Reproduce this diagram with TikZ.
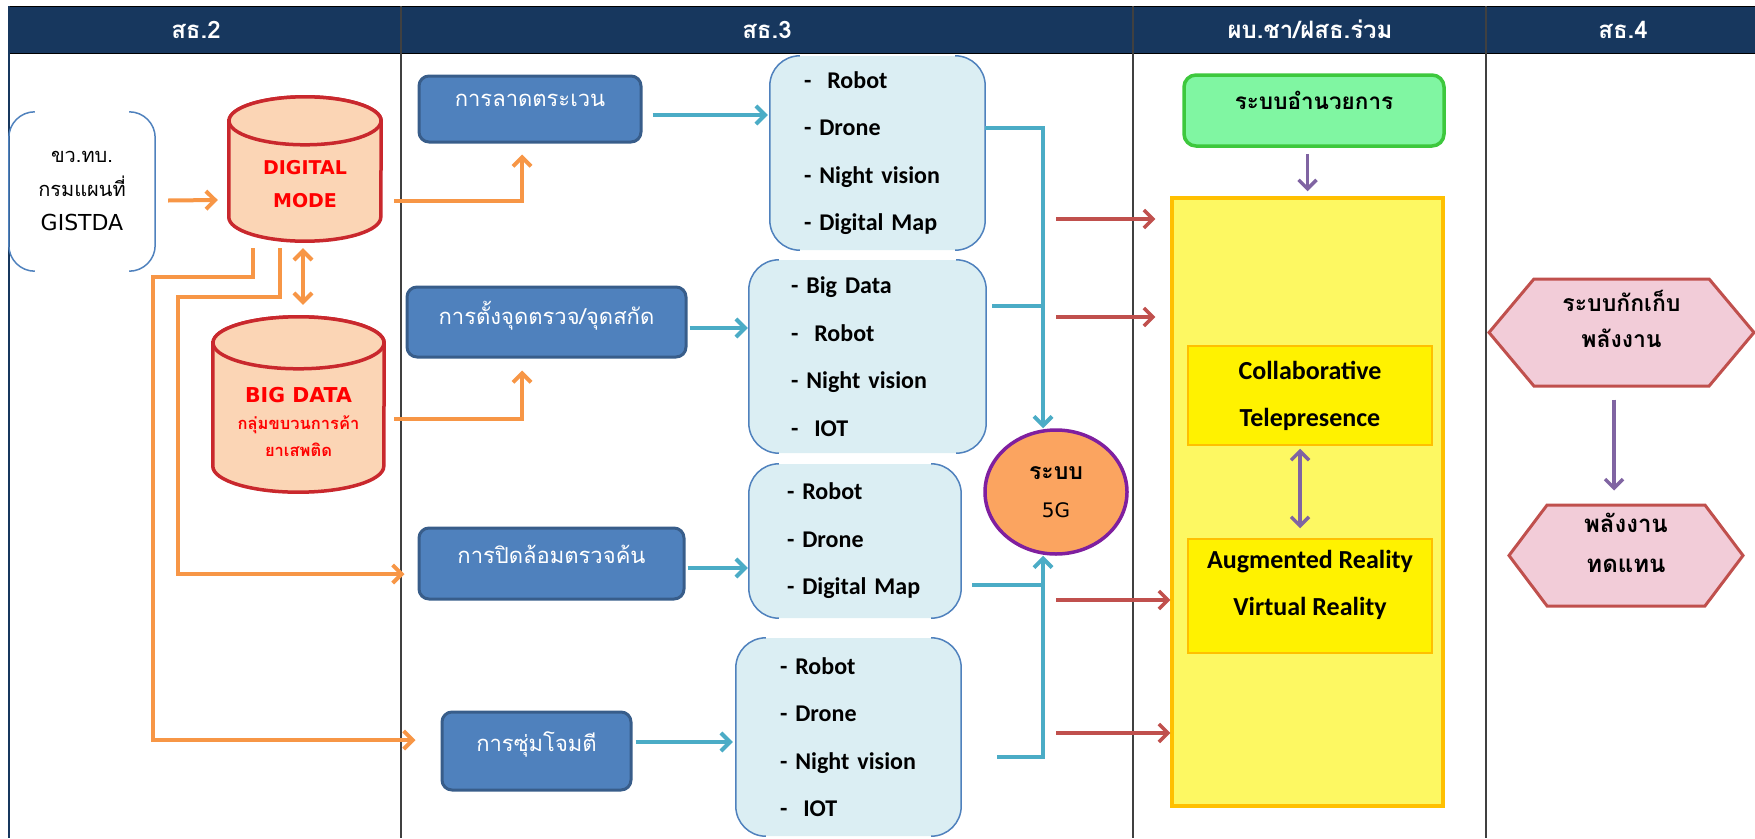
\documentclass[tikz,border=0pt]{standalone}
\usepackage{fontspec}
\setmainfont{Carlito}
\newfontfamily\thaifont[Script=Thai]{Loma}
\newfontfamily\verdfont{DejaVu Sans}
\usetikzlibrary{positioning}
\usetikzlibrary{calc}
\usetikzlibrary{shapes.geometric}
\usetikzlibrary{shapes.symbols}
\usetikzlibrary{arrows.meta}
\pgfdeclarelayer{bg}
\pgfsetlayers{bg,main}
\definecolor{hdrnavy}{HTML}{17375E}
\definecolor{actfill}{HTML}{4F81BD}
\definecolor{actedge}{HTML}{385D8A}
\definecolor{lstfill}{HTML}{DBEEF3}
\definecolor{lstblue}{HTML}{4F81BD}
\definecolor{cylfill}{HTML}{FBD5B5}
\definecolor{cylred}{HTML}{C9282D}
\definecolor{orline}{HTML}{F79646}
\definecolor{cyline}{HTML}{4BACC6}
\definecolor{redline}{HTML}{C0504D}
\definecolor{purline}{HTML}{8064A2}
\definecolor{fgfill}{HTML}{FBA460}
\definecolor{fgedge}{HTML}{7F1F9F}
\definecolor{grfill}{HTML}{80F6A2}
\definecolor{gredge}{HTML}{3DC83D}
\definecolor{yfill}{HTML}{FDF862}
\definecolor{yedge}{HTML}{FFC000}
\definecolor{hexfill}{HTML}{F2CCD8}
\definecolor{hexred}{HTML}{C0504D}
\tikzset{>={Straight Barb[length=9pt,width=18pt]}}
\tikzset{hdr/.style={text=white,font=\thaifont\bfseries\fontsize{24}{28}\selectfont}}
\tikzset{act/.style={draw=actedge,fill=actfill,line width=3pt,rounded corners=10pt,text=white,font=\thaifont\fontsize{22}{26}\selectfont,
  execute at end node={\rule[-18pt]{0pt}{18pt}}}}
\tikzset{lst/.style={fill=lstfill,rounded corners=30pt,inner ysep=0pt,align=left,font=\bfseries\fontsize{24}{47.5}\selectfont}}
\tikzset{lstedge/.style={draw=lstblue,line width=1.5pt}}
\tikzset{dbtxt/.style={inner sep=0pt,text=red,align=center}}
\tikzset{dbline/.style={draw=cylred,fill=cylfill,line width=3.5pt}}
\tikzset{hexa/.style={signal,signal to=east and west,draw=hexred,fill=hexfill,line width=3pt,align=center,inner sep=0pt}}
\tikzset{yel/.style={draw=yedge,line width=1.5pt,fill=yellow,align=center,font=\bfseries\fontsize{26}{47}\selectfont}}
\tikzset{orln/.style={draw=orline,line width=4pt}}
\tikzset{cyln/.style={draw=cyline,line width=4pt}}
\tikzset{rdln/.style={draw=redline,line width=3.5pt}}
\tikzset{puln/.style={draw=purline,line width=3.5pt}}
\newcommand{\sidearcs}[2]{%
  \draw[lstedge,rounded corners=#2] ([xshift=#2]#1.north west) -- (#1.north west) -- (#1.south west) -- ([xshift=#2]#1.south west);
  \draw[lstedge,rounded corners=#2] ([xshift=-#2]#1.north east) -- (#1.north east) -- (#1.south east) -- ([xshift=-#2]#1.south east);}
\newcommand{\dbdraw}[3]{%
  \begin{pgfonlayer}{bg}
  \path[dbline] ([yshift=-#3]#1.north west) -- ([yshift=#3]#1.south west)
    arc[start angle=180,end angle=360,x radius=#2,y radius=#3] -- ([yshift=-#3]#1.north east)
    arc[start angle=0,end angle=180,x radius=#2,y radius=#3] -- cycle;
  \path[dbline] ([yshift=-#3]#1.north) ellipse[x radius=#2,y radius=#3];
  \end{pgfonlayer}}
\newcommand{\lift}[1]{\rule[-#1]{0pt}{#1}}
\newcommand{\drop}[1]{\rule{0pt}{#1}}

\begin{document}
\begin{tikzpicture}[x=1pt,y=-1pt]
        \useasboundingbox (0,0) rectangle (1755,838);
        \fill[hdrnavy] (9,6) rectangle (1755,53);
        \draw[line width=1pt] (9,6) -- (1755,6) (9,53) -- (1755,53);
        \draw[line width=2pt,hdrnavy] (9,6) -- (9,838);
        \draw[line width=1.2pt,black!75] (401,6) -- (401,838) (1133,6) -- (1133,838) (1486,6) -- (1486,838);

        \node[hdr] (h2) at (196,29.5) {สธ.2};
        \node[hdr] (h3) at (767,29.5) {สธ.3};
        \node[hdr] (h4) at (1310,29.5) {ผบ.ชา/ฝสธ.ร่วม};
        \node[hdr] (h5) at (1623,29.5) {สธ.4};

        % sources
        \node[minimum width=146pt, minimum height=159pt, align=center, font=\fontsize{20}{34}\selectfont] (kw) at (82,191.5)
          {{\thaifont ขว.ทบ.}\\{\thaifont กรมแผนที่}\\{\verdfont\fontsize{22}{34}\selectfont GISTDA}};
        \sidearcs{kw}{26pt}
        \node[dbtxt, minimum width=152pt, minimum height=144pt, font=\verdfont\bfseries\fontsize{19}{33}\selectfont] (dm) at (305,169)
          {\drop{45pt}DIGITAL\\MODE};
        \dbdraw{dm}{76pt}{24pt}
        \node[dbtxt, minimum width=171pt, minimum height=175pt, font=\verdfont\bfseries\fontsize{20.5}{27}\selectfont] (bd) at (298.5,404.5)
          {\drop{50pt}BIG DATA\\{\thaifont\fontsize{16.5}{27}\selectfont กลุ่มขบวนการค้า}\\{\thaifont\fontsize{16.5}{25}\selectfont ยาเสพติด}};
        \dbdraw{bd}{85.5pt}{26pt}

        % operations
        \node[act, minimum width=222pt, minimum height=66pt, execute at end node={\rule[-6pt]{0pt}{6pt}}] (lat) at (530,109) {การลาดตระเวน};
        \node[act, minimum width=279pt, minimum height=70pt] (tj) at (546.5,322) {การตั้งจุดตรวจ/จุดสกัด};
        \node[act, minimum width=265pt, minimum height=71pt] (pl) at (551.5,563.5) {การปิดล้อมตรวจค้น};
        \node[act, minimum width=189pt, minimum height=78pt] (sj) at (536.5,751) {การซุ่มโจมตี};

        \node[lst, minimum height=194pt, inner xsep=34pt, text width=147pt] (A) at (877.5,153)
          {-~ Robot\\- Drone\\- Night vision\\- Digital Map};
        \node[lst, minimum height=193pt, inner xsep=42pt, text width=153pt] (B) at (867.5,356.5)
          {- Big Data\\-~ Robot\\- Night vision\\-~ IOT};
        \node[lst, minimum height=154pt, inner xsep=38pt, text width=136pt] (C) at (855,541)
          {- Robot\\- Drone\\- Digital Map};
        \node[lst, minimum height=198pt, inner xsep=44pt, text width=137pt] (D) at (848.5,737)
          {- Robot\\- Drone\\- Night vision\\-~ IOT};
        \sidearcs{A}{30pt}
        \sidearcs{B}{30pt}
        \sidearcs{C}{30pt}
        \sidearcs{D}{30pt}

        \node[ellipse, draw=fgedge, fill=fgfill, line width=3.5pt, minimum width=142pt, minimum height=124pt, align=center,
          font=\fontsize{20}{38}\selectfont] (g5) at (1056,492) {{\thaifont\bfseries\fontsize{23}{38}\selectfont ระบบ}\\{\verdfont 5G}};

        % command side
        \node[draw=gredge, fill=grfill, line width=3.5pt, rounded corners=12pt, minimum width=260pt, minimum height=71pt,
          font=\thaifont\bfseries\fontsize{22.5}{26}\selectfont] (ga) at (1314,110.5) {ระบบอำนวยการ\lift{20pt}};
        \node[draw=yedge, fill=yfill, line width=3.5pt, minimum width=271pt, minimum height=608pt] (ar) at (1307.5,502) {};
        \node[yel, minimum width=244pt, minimum height=99pt] (cb) at (1310,395.5) {Collaborative\\Telepresence};
        \node[yel, minimum width=244pt, minimum height=114pt] (ag) at (1310,596) {Augmented Reality\\Virtual Reality\lift{26pt}};

        \node[hexa, minimum width=265pt, minimum height=107pt, signal pointer angle=100,
          font=\thaifont\bfseries\fontsize{23}{36}\selectfont] (hx1) at (1621.5,332.5) {ระบบกักเก็บ\\พลังงาน\lift{28pt}};
        \node[hexa, minimum width=234pt, minimum height=101pt, signal pointer angle=106,
          font=\thaifont\bfseries\fontsize{24}{40}\selectfont] (hx2) at (1626,555.5) {พลังงาน\\ทดแทน\lift{26pt}};

        \coordinate (r1) at (1056,219);
        \coordinate (r2) at (1056,317);
        \coordinate (r3) at (1056,600);
        \coordinate (r4) at (1056,733);

        % orange
        \draw[orln, ->] ($(kw.east)+(13,9)$) -- ($(dm.west)+(-11,31)$);
        \draw[orln, <->] ($(dm.south)+(-2,7)$) -- ($(bd.north)+(4.5,-12)$);
        \draw[orln, ->] ($(dm.east)+(13,32)$) -| ($(lat.south)+(-8,11)$);
        \draw[orln, ->] ($(bd.east)+(10,14)$) -| ($(tj.south)+(-24.5,12)$);
        \draw[orln, ->] ($(dm.south)+(-25,7)$) |- (178,297) |- ($(pl.west)+(-13,10.5)$);
        \draw[orln, ->] ($(dm.south)+(-52,7)$) |- (153,277) |- ($(sj.west)+(-25,-11)$);

        % cyan
        \draw[cyln, ->] ($(lat.east)+(10,6)$) -- ($(A.west)+(-2,-38)$);
        \draw[cyln, ->] ($(tj.east)+(2,6)$) -- ($(B.west)+(-1,-28.5)$);
        \draw[cyln, ->] ($(pl.east)+(2,4.5)$) -- ($(C.west)+(-1,27)$);
        \draw[cyln, ->] ($(sj.east)+(3,-9)$) -- ($(D.west)+(-3,5)$);
        \draw[cyln, ->] ($(A.east)+(0,-25)$) -| ($(g5.north)+(-13,0)$);
        \draw[cyln] ($(B.east)+(6,-50.5)$) -- ++(51,0);
        \draw[cyln] ($(C.east)+(11,44)$) -- ++(71,0);
        \draw[cyln, ->] ($(D.east)+(36,20)$) -| ($(g5.south)+(-13,0)$);

        % red
        \draw[rdln, ->, shorten >=15pt] (r1) -- (r1 -| ar.west);
        \draw[rdln, ->, shorten >=15pt] (r2) -- (r2 -| ar.west);
        \draw[rdln, ->] (r3) -- (r3 -| ar.west);
        \draw[rdln, ->] (r4) -- (r4 -| ar.west);

        % purple
        \draw[puln, ->, shorten <=6pt, shorten >=5pt] (ar.north |- ga.south) -- (ar.north);
        \draw[puln, <->] ($(cb.south)+(-10,3)$) -- ($(ag.north)+(-10,-10)$);
        \draw[puln, ->] ($(hx1.south)+(-7.5,12)$) -- ($(hx2.north)+(-12,-13)$);
\end{tikzpicture}
\end{document}
